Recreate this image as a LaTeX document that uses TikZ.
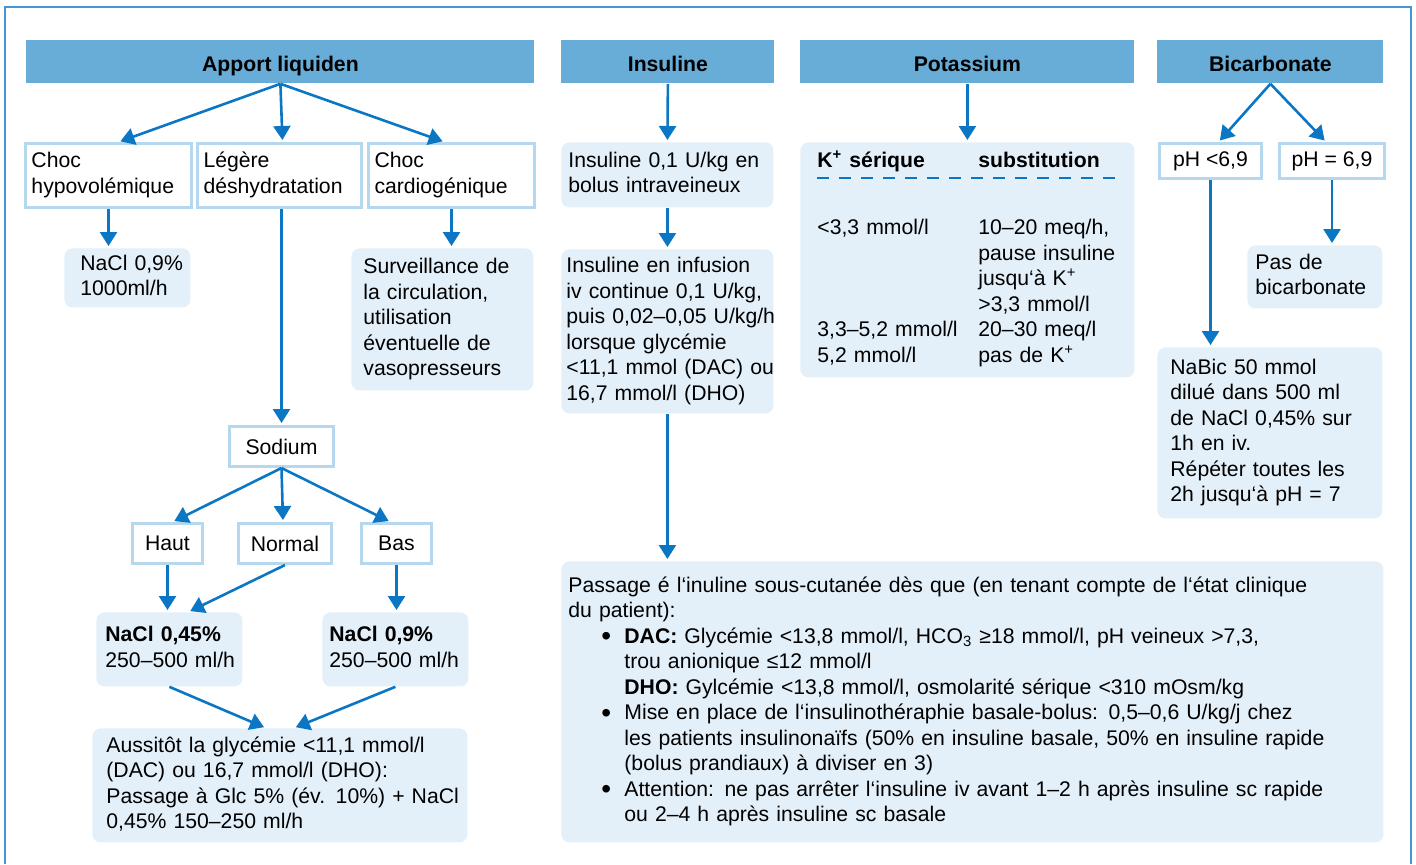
\documentclass[tikz,border=0pt]{standalone}
\usepackage{fontspec}
\setmainfont{Liberation Sans}
\usetikzlibrary{arrows.meta,calc}
\definecolor{barblue}{RGB}{103,173,216}
\definecolor{arrblue}{RGB}{10,118,196}
\definecolor{rimblue}{RGB}{182,216,238}
\definecolor{paleblue}{RGB}{228,240,249}
\definecolor{frameblue}{RGB}{70,150,215}
\newcommand{\boxtext}[1]{\begin{tabular}{@{}l@{}}#1\end{tabular}}
\newcommand{\bitem}{\makebox[28pt][l]{\hspace{16.5pt}\raisebox{-1.3pt}{\fontsize{14}{12.75}\selectfont\textbullet}}}
\newcommand{\bcont}{\hspace*{28pt}}
\tikzset{
  headbar/.style={fill=barblue,font=\fontsize{10.6}{12.75}\selectfont\bfseries,anchor=north west,inner sep=0pt,minimum height=21.5pt,text height=11pt,text depth=1.5pt},
  wbox/.style={draw=rimblue,line width=1.5pt,fill=white,anchor=north west,align=left,inner xsep=3pt,inner ysep=1pt},
  cbox/.style={wbox,align=center},
  pbox/.style={fill=paleblue,rounded corners=4pt,anchor=north west,align=left,inner xsep=4pt,inner ysep=1pt},
  flow/.style={-{Triangle[width=8.5pt,length=7pt]},line width=1.3pt,draw=arrblue,shorten >=1pt},
  kdash/.style={draw=arrblue,line width=1pt,dash pattern=on 6pt off 5pt},
}
\begin{document}
\begin{tikzpicture}[x=0.5pt,y=-0.5pt,font=\fontsize{10.6}{12.75}\selectfont]
\useasboundingbox (0,0) rectangle (1416,864);
\draw[frameblue,line width=1pt] (5,864) -- (5,7) -- (1411,7) -- (1411,864);

\node[headbar,minimum width=254pt] (apport) at (26,40) {Apport liquiden};
\node[headbar,minimum width=106.5pt] (insul) at (561,40) {Insuline};
\node[headbar,minimum width=167pt] (potas) at (800,40) {Potassium};
\node[headbar,minimum width=113pt] (bicarb) at (1157,40) {Bicarbonate};

\node[wbox,text width=77pt,minimum height=32pt] (choch) at (24,142) {\boxtext{Choc\\hypovolémique}};
\node[wbox,text width=76pt,minimum height=32pt] (legere) at (196,142) {\boxtext{Légère\\déshydratation}};
\node[wbox,text width=77pt,minimum height=32pt] (cardio) at (367,142) {\boxtext{Choc\\cardiogénique}};
\node[pbox,inner xsep=8pt,text width=47pt,minimum height=29.5pt] (nacl1) at (64,248) {\boxtext{NaCl 0,9\%\\1000ml/h}};
\node[pbox,inner xsep=6pt,text width=79pt,minimum height=71pt] (surv) at (351,248) {\boxtext{Surveillance de\\la circulation,\\utilisation\\éventuelle de\\vasopresseurs}};
\node[cbox,minimum width=52pt,minimum height=20pt] (sodium) at (228,425) {Sodium};
\node[cbox,minimum width=35pt,minimum height=20pt] (haut) at (131,522) {Haut};
\node[cbox,minimum width=46.5pt,minimum height=20pt] (normal) at (237,522) {Normal};
\node[cbox,minimum width=35pt,minimum height=20pt] (bas) at (360,522) {Bas};
\node[pbox,inner xsep=4.5pt,text width=64pt,minimum height=37pt] (nacl45) at (96,612) {\boxtext{\textbf{NaCl 0,45\%}\\250–500 ml/h}};
\node[pbox,inner xsep=3.5pt,text width=66pt,minimum height=37pt] (nacl9) at (322,612) {\boxtext{\textbf{NaCl 0,9\%}\\250–500 ml/h}};
\node[pbox,inner xsep=7pt,text width=173.5pt,minimum height=57pt] (aussi) at (92,728) {\boxtext{Aussitôt la glycémie <11,1 mmol/l\\(DAC) ou 16,7 mmol/l (DHO):\\Passage à Glc 5\% (év. 10\%) + NaCl\\0,45\% 150–250 ml/h}};

\node[pbox,inner xsep=3.5pt,text width=99pt,minimum height=32.5pt] (ins1) at (561,142) {\boxtext{Insuline 0,1 U/kg en\\bolus intraveineux}};
\node[pbox,inner xsep=2.5pt,text width=101pt,minimum height=82pt] (ins2) at (561,249) {\boxtext{Insuline en infusion\\iv continue 0,1 U/kg,\\puis 0,02–0,05 U/kg/h\\lorsque glycémie\\<11,1 mmol (DAC) ou\\16,7 mmol/l (DHO)}};

\node[pbox,inner xsep=8.5pt,text width=150pt,minimum height=117.5pt] (kbox) at (800,142) {%
\begin{tabular}{@{}p{80.5pt}@{}l@{}}
\textbf{K\textsuperscript{+} sérique} & \textbf{substitution}\\[20.75pt]
<3,3 mmol/l & 10–20 meq/h,\\
 & pause insuline\\
 & jusqu‘à K\textsuperscript{+}\\
 & >3,3 mmol/l\\
3,3–5,2 mmol/l & 20–30 meq/l\\
5,2 mmol/l & pas de K\textsuperscript{+}
\end{tabular}};
\draw[kdash] ($(kbox.north west)+(17,36)$) -- ($(kbox.north west)+(318,36)$);

\node[cbox,minimum width=51pt,minimum height=17.5pt] (phlow) at (1158,142) {pH <6,9};
\node[cbox,minimum width=52.5pt,minimum height=17.5pt] (pheq) at (1278,142) {pH = 6,9};
\node[pbox,inner xsep=4pt,text width=59.5pt,minimum height=31.5pt] (pasbic) at (1247,245) {\boxtext{Pas de\\bicarbonate}};
\node[pbox,inner xsep=6.5pt,text width=99.5pt,minimum height=85.5pt] (nabic) at (1157,347) {\boxtext{NaBic 50 mmol\\dilué dans 500 ml\\de NaCl 0,45\% sur\\1h en iv.\\Répéter toutes les\\2h jusqu‘à pH = 7}};

\node[pbox,inner xsep=3.5pt,text width=404pt,minimum height=140.5pt] (passage) at (561,561) {\boxtext{%
Passage é l‘inuline sous-cutanée dès que (en tenant compte de l‘état clinique\\
du patient):\\
\bitem\textbf{DAC:} Glycémie <13,8 mmol/l, HCO\textsubscript{3} ≥18 mmol/l, pH veineux >7,3,\\
\bcont trou anionique ≤12 mmol/l\\
\bcont\textbf{DHO:} Gylcémie <13,8 mmol/l, osmolarité sérique <310 mOsm/kg\\
\bitem Mise en place de l‘insulinothéraphie basale-bolus: 0,5–0,6 U/kg/j chez\\
\bcont les patients insulinonaïfs (50\% en insuline basale, 50\% en insuline rapide\\
\bcont (bolus prandiaux) à diviser en 3)\\
\bitem Attention: ne pas arrêter l‘insuline iv avant 1–2 h après insuline sc rapide\\
\bcont ou 2–4 h après insuline sc basale}};

\draw[flow] (apport.south) -- ([xshift=5pt]choch.north);
\draw[flow] (apport.south) -- ([xshift=1.5pt]legere.north);
\draw[flow] (apport.south) -- ([xshift=-3.5pt]cardio.north);
\draw[flow] (choch.south) -- (choch.south |- nacl1.north);
\draw[flow] (cardio.south) -- (cardio.south |- surv.north);
\draw[flow] (sodium.north |- legere.south) -- (sodium.north);
\draw[flow] (sodium.south) -- ([xshift=2.5pt]haut.north);
\draw[flow] (sodium.south) -- ([xshift=-1pt]normal.north);
\draw[flow] (sodium.south) -- ([xshift=-3pt]bas.north);
\draw[flow] (haut.south) -- (haut.south |- nacl45.north);
\draw[flow] (normal.south) -- ([xshift=9.5pt]nacl45.north);
\draw[flow] (bas.south) -- (bas.south |- nacl9.north);
\draw[flow] (nacl45.south) -- ([xshift=-7pt]aussi.north);
\draw[flow] (nacl9.south) -- ([xshift=7pt]aussi.north);
\draw[flow] (insul.south) -- (ins1.north);
\draw[flow] (ins1.south) -- (ins2.north);
\draw[flow] (ins2.south) -- (ins2.south |- passage.north);
\draw[flow] (potas.south) -- (kbox.north);
\draw[flow] (bicarb.south) -- ([xshift=4pt]phlow.north);
\draw[flow] (bicarb.south) -- ([xshift=-3pt]pheq.north);
\draw[flow] (phlow.south) -- (phlow.south |- nabic.north);
\draw[flow] (pheq.south) -- (pheq.south |- pasbic.north);
\end{tikzpicture}
\end{document}
